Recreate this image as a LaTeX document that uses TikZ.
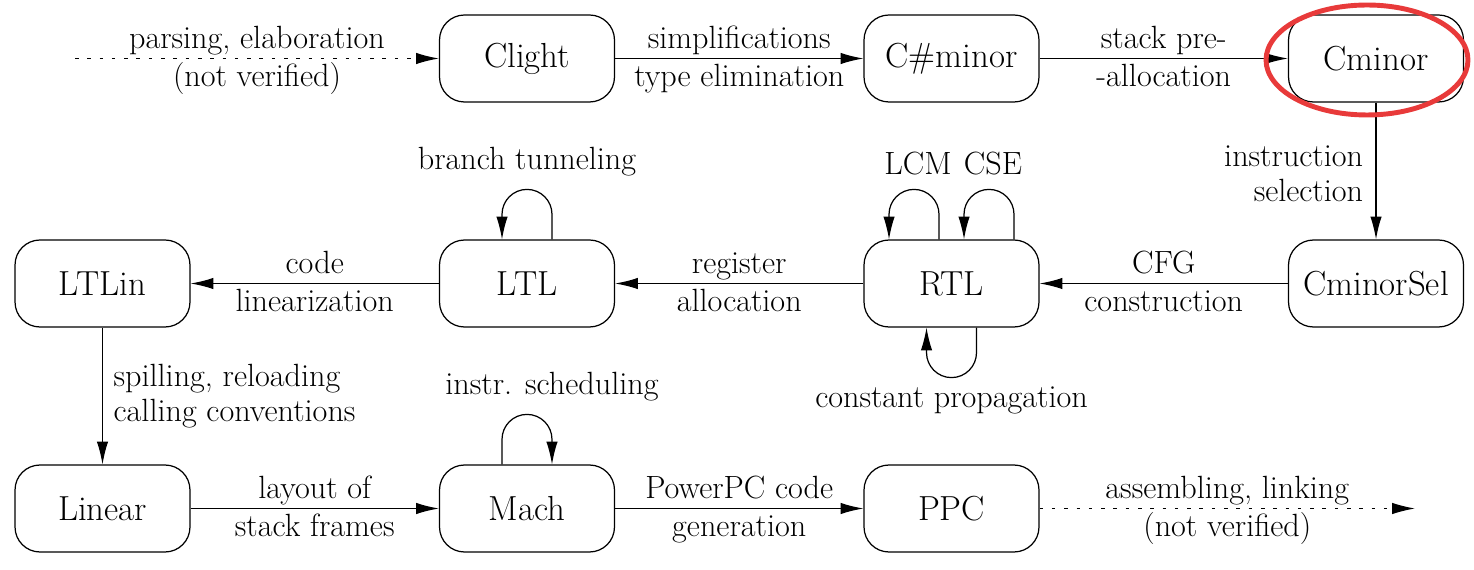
\documentclass[tikz,border=0pt]{standalone}
\usetikzlibrary{arrows.meta,calc}
\begin{document}
\begin{tikzpicture}[x=0.02cm,y=-0.02cm,
  box/.style={draw,line width=0.7pt,rounded corners=0.5cm,minimum width=3.5cm,minimum height=1.74cm,font=\fontsize{19.8}{23}\selectfont,inner sep=0pt},
  lbl/.style={font=\fontsize{18.3}{20.2}\selectfont,inner sep=0pt},
  up/.style={lbl,anchor=base,yshift=5.6pt},
  dn/.style={lbl,anchor=base,yshift=-15.8pt},
  arr/.style={line width=0.7pt,-{Latex[length=13pt,width=6.5pt]}},
  dots/.style={arr,dash pattern=on 2pt off 5pt},
]
\useasboundingbox (0,0) rectangle (1474,570);
\node[box] (clight) at (527,58.5) {Clight};
\node[box] (csharp) at (951.5,58.5) {C\#minor};
\node[box] (cminor) at (1376,58.5) {Cminor};
\node[box] (ltlin) at (102.5,283.5) {LTLin};
\node[box] (ltl) at (527,283.5) {LTL};
\node[box] (rtl) at (951.5,283.5) {RTL};
\node[box] (cminorsel) at (1376,283.5) {CminorSel};
\node[box] (linear) at (102.5,508.5) {Linear};
\node[box] (mach) at (527,508.5) {Mach};
\node[box] (ppc) at (951.5,508.5) {PPC};
\coordinate (src) at (75,58.5);
\coordinate (dst) at (1415,508.5);

\draw[dots] (src) -- (clight)
  node[up,midway]{parsing, elaboration}
  node[dn,midway]{(not verified)};
\draw[arr] (clight) -- (csharp)
  node[up,midway]{simplifications}
  node[dn,midway]{type elimination};
\draw[arr] (csharp) -- (cminor)
  node[up,midway]{stack pre-}
  node[dn,midway]{-allocation};
\draw[arr] (cminor) -- (cminorsel)
  node[lbl,midway,left=7pt,align=right,yshift=-1.5pt]{instruction\\selection};
\draw[arr] (cminorsel) -- (rtl)
  node[up,midway]{CFG}
  node[dn,midway]{construction};
\draw[arr] (rtl) -- (ltl)
  node[up,midway]{register}
  node[dn,midway]{allocation};
\draw[arr] (ltl) -- (ltlin)
  node[up,midway]{code}
  node[dn,midway]{linearization};
\draw[arr] (ltlin) -- (linear)
  node[lbl,midway,right=6pt,align=left]{spilling, reloading\\calling conventions};
\draw[arr] (linear) -- (mach)
  node[up,midway]{layout of}
  node[dn,midway]{stack frames};
\draw[arr] (mach) -- (ppc)
  node[up,midway]{PowerPC code}
  node[dn,midway]{generation};
\draw[dots] (ppc) -- (dst)
  node[up,midway]{assembling, linking}
  node[dn,midway]{(not verified)};

% self loops
\draw[arr] ($(ltl.north)+(25,0)$) -- ++(0,-25) arc[start angle=0,end angle=180,radius=0.5cm] -- ($(ltl.north)+(-25,0)$);
\draw[arr] ($(rtl.north)+(-12.5,0)$) -- ++(0,-25) arc[start angle=0,end angle=180,radius=0.5cm] -- ($(rtl.north)+(-62.5,0)$);
\draw[arr] ($(rtl.north)+(62.5,0)$) -- ++(0,-25) arc[start angle=0,end angle=180,radius=0.5cm] -- ($(rtl.north)+(12.5,0)$);
\draw[arr] ($(rtl.south)+(25,0)$) -- ++(0,25) arc[start angle=0,end angle=-180,radius=0.5cm] -- ($(rtl.south)+(-25,0)$);
\draw[arr] ($(mach.north)+(-25,0)$) -- ++(0,-25) arc[start angle=180,end angle=0,radius=0.5cm] -- ($(mach.north)+(25,0)$);

\node[lbl,anchor=base] (bt) at (527,170) {branch tunneling};
\node[lbl,anchor=base] (lcm) at (918,175) {LCM};
\node[lbl,anchor=base] (cse) at (993,175) {CSE};
\node[lbl,anchor=base] (cp) at (951.5,408) {constant propagation};
\node[lbl,anchor=base] (is) at (552,395) {instr. scheduling};

% highlight
\draw[line width=2.8pt,color={rgb,255:red,232;green,58;blue,58}] (1367,60) ellipse[x radius=2.02cm,y radius=1.1cm];
\end{tikzpicture}
\end{document}
